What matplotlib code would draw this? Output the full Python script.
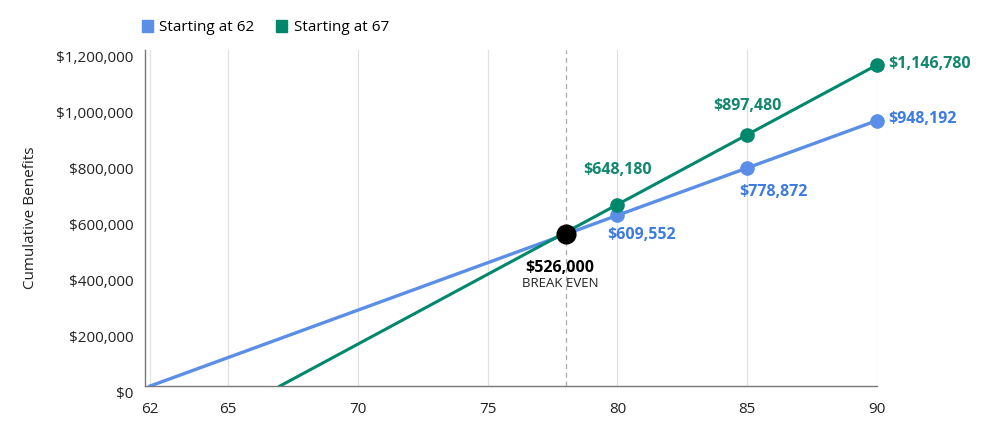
#!/usr/bin/env python3
# -*- coding: utf-8 -*-
"""
Cumulative benefits: claiming at 62 vs claiming at 67, with break-even point.
"""

import numpy as np
import matplotlib
matplotlib.use('Agg')
import matplotlib.pyplot as plt
import matplotlib.transforms as mtransforms
from matplotlib.ticker import FuncFormatter
from matplotlib.patches import Patch

plt.rcParams['font.family'] = ['Open Sans', 'DejaVu Sans']

# Data
ages_62 = [62, 80, 85, 90]
benefits_62 = [0, 609552, 778872, 948192]
ages_67 = [67, 80, 85, 90]
benefits_67 = [0, 648180, 897480, 1146780]
break_even_age = 78
break_even_value = 526000
x_ticks = [62, 65, 70, 75, 80, 85, 90]
y_ticks = [0, 200000, 400000, 600000, 800000, 1000000, 1200000]

blue = '#5B8EE6'
blue_text = '#3D7BE0'
green = '#00876C'
green_text = '#12876D'

fig = plt.figure(figsize=(10, 4.29), dpi=100)
ax = fig.add_axes([0.145, 0.1002, 0.732, 0.7832])

# Lines and markers (no marker at the starting age)
ax.plot(ages_62, benefits_62, color=blue, lw=2.4, zorder=3)
ax.plot(ages_62[1:], benefits_62[1:], 'o', color=blue, ms=9.5, zorder=4, clip_on=False)
ax.plot(ages_67, benefits_67, color=green, lw=2.2, zorder=3)
ax.plot(ages_67[1:], benefits_67[1:], 'o', color=green, ms=9.5, zorder=4, clip_on=False)

# Break even marker, sitting on the 62 line
be_y = np.interp(break_even_age, ages_62, benefits_62)
ax.axvline(break_even_age, color='#aaaaaa', lw=0.9, ls=(0, (4, 3)), zorder=1)
ax.plot([break_even_age], [be_y], 'o', color='black', ms=13.5, zorder=5)
ax.annotate('${:,}'.format(break_even_value), (break_even_age, be_y),
            xytext=(-4, -24), textcoords='offset points', ha='center', va='center',
            fontsize=11.5, fontweight='bold', color='black')
ax.annotate('BREAK EVEN', (break_even_age, be_y),
            xytext=(-4, -35.5), textcoords='offset points', ha='center', va='center',
            fontsize=9.5, color='#222222')

# Value labels
fmt = lambda v: '${:,}'.format(v)
lab_opts = dict(textcoords='offset points', fontsize=11.5, fontweight='bold')
ax.annotate(fmt(benefits_67[1]), (ages_67[1], benefits_67[1]), xytext=(0, 25),
            ha='center', va='center', color=green_text, **lab_opts)
ax.annotate(fmt(benefits_67[2]), (ages_67[2], benefits_67[2]), xytext=(0, 21),
            ha='center', va='center', color=green_text, **lab_opts)
ax.annotate(fmt(benefits_67[3]), (ages_67[3], benefits_67[3]), xytext=(8, 1),
            ha='left', va='center', color=green_text, **lab_opts)
ax.annotate(fmt(benefits_62[1]), (ages_62[1], benefits_62[1]), xytext=(-7, -14),
            ha='left', va='center', color=blue_text, **lab_opts)
ax.annotate(fmt(benefits_62[2]), (ages_62[2], benefits_62[2]), xytext=(19, -17),
            ha='center', va='center', color=blue_text, **lab_opts)
ax.annotate(fmt(benefits_62[3]), (ages_62[3], benefits_62[3]), xytext=(8, 1),
            ha='left', va='center', color=blue_text, **lab_opts)

# Axes
ax.set_xlim(61.8, 90)
ax.set_ylim(0, 1200000)
ax.set_xticks(x_ticks)
ax.set_yticks(y_ticks)
ax.yaxis.set_major_formatter(FuncFormatter(lambda v, p: '${:,.0f}'.format(v)))
ax.tick_params(axis='both', length=0, labelsize=11, colors='#222222')
ax.tick_params(axis='y', pad=8.5)
ax.tick_params(axis='x', pad=11.5)
# y labels sit slightly below their values
offset = mtransforms.ScaledTranslation(0, -5 / 72, fig.dpi_scale_trans)
for lbl in ax.get_yticklabels():
    lbl.set_transform(lbl.get_transform() + offset)

ax.grid(axis='x', color='#e0e0e0', lw=0.9)
ax.grid(axis='y', visible=False)
ax.set_axisbelow(True)
for s in ['top', 'right']:
    ax.spines[s].set_visible(False)
for s in ['left', 'bottom']:
    ax.spines[s].set_color('#777777')
    ax.spines[s].set_linewidth(1.0)
ax.set_ylabel('Cumulative Benefits', fontsize=11, color='#222222', labelpad=13)

# Legend at the top
handles = [Patch(color=blue, label='Starting at 62'),
           Patch(color=green, label='Starting at 67')]
fig.legend(handles=handles, loc='center left', bbox_to_anchor=(0.128, 0.935),
           ncol=2, frameon=False, fontsize=11, handlelength=0.75, handleheight=0.75,
           handletextpad=0.4, columnspacing=1.4)

fig.savefig('out.png', dpi=100)
